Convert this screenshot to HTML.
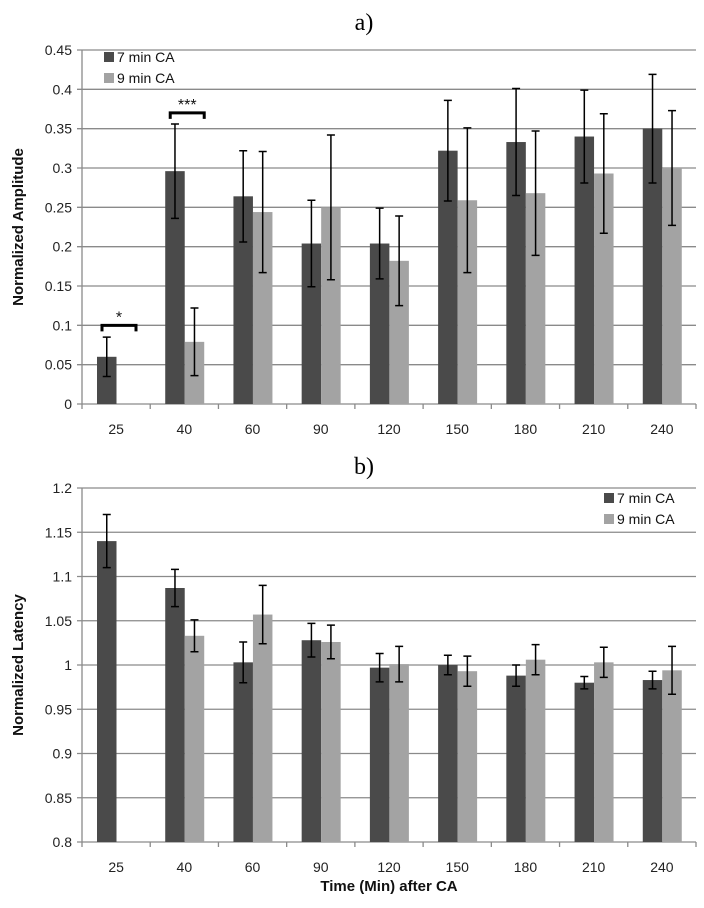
<!DOCTYPE html>
<html><head><meta charset="utf-8"><style>
body{margin:0;background:#fff;width:704px;height:908px;overflow:hidden}
svg{display:block;font-family:"Liberation Sans",sans-serif}
</style></head><body>
<svg id="chart" width="704" height="908"></svg>
<script>
const categories=["25","40","60","90","120","150","180","210","240"];
const ampSeries7=[0.06,0.296,0.264,0.204,0.204,0.322,0.333,0.34,0.35];
const ampErr7=[0.025,0.06,0.058,0.055,0.045,0.064,0.068,0.059,0.069];
const ampSeries9=[null,0.079,0.244,0.25,0.182,0.259,0.268,0.293,0.3];
const ampErr9=[null,0.043,0.077,0.092,0.057,0.092,0.079,0.076,0.073];
const ampTicks=["0","0.05","0.1","0.15","0.2","0.25","0.3","0.35","0.4","0.45"];
const latSeries7=[1.14,1.087,1.003,1.028,0.997,1.0,0.988,0.98,0.983];
const latErr7=[0.03,0.021,0.023,0.019,0.016,0.011,0.012,0.007,0.01];
const latSeries9=[null,1.033,1.057,1.026,1.001,0.993,1.006,1.003,0.994];
const latErr9=[null,0.018,0.033,0.019,0.02,0.017,0.017,0.017,0.027];
const latTicks=["0.8","0.85","0.9","0.95","1","1.05","1.1","1.15","1.2"];

const svg=document.getElementById('chart');
const NS='http://www.w3.org/2000/svg';
function el(tag,attrs,text){const e=document.createElementNS(NS,tag);for(const k in attrs)e.setAttribute(k,attrs[k]);if(text!==undefined)e.textContent=text;svg.appendChild(e);return e;}

function drawChart(cfg){
  const L=82,R=696,T=cfg.top,B=cfg.bottom;
  const cw=(R-L)/categories.length;
  const y=v=>B-(v-cfg.min)/(cfg.max-cfg.min)*(B-T);
  const x=i=>L+i*cw;
  // gridlines & ticks
  cfg.ticks.forEach(t=>{
    const v=parseFloat(t),yy=y(v);
    const g=el('line',{x1:L-5,x2:R,y1:yy,y2:yy,stroke:'#8a8a8a','stroke-width':1.3});
    
    
    const lb=el('text',{x:L-10,y:yy+5,'text-anchor':'end','font-size':14,fill:'#222'},t);
    
    
  });
  const ax=el('line',{x1:L,x2:L,y1:T,y2:B,stroke:'#8a8a8a','stroke-width':1.3});
  
  
  for(let i=0;i<=categories.length;i++){
    const tk=el('line',{x1:x(i),x2:x(i),y1:B,y2:B+5,stroke:'#8a8a8a','stroke-width':1.3});
    
    
  }
  categories.forEach((c,i)=>{
    const lb=el('text',{x:x(i)+cw/2,y:B+30,'text-anchor':'middle','font-size':14,fill:'#222'},c);
    
    
  });
  const bw=19.5;
  [[cfg.s7,cfg.e7,'#4a4a4a',15,'7min'],[cfg.s9,cfg.e9,'#a3a3a3',15+bw,'9min']].forEach(([s,e,col,off,nm])=>{
    s.forEach((v,i)=>{
      if(v===null)return;
      const bx=x(i)+off;
      const r=el('rect',{x:bx,y:y(v),width:bw,height:B-y(v),fill:col});
      
      
      const cx=bx+bw/2,hi=y(v+e[i]),lo=y(Math.max(v-e[i],cfg.min));
      const eb=el('path',{d:`M${cx},${hi}V${lo}M${cx-4},${hi}H${cx+4}M${cx-4},${lo}H${cx+4}`,stroke:'#000','stroke-width':1.5,fill:'none'});
      
      
    });
  });
  const tl=el('text',{x:23,y:(T+B)/2,'text-anchor':'middle','font-size':15,'font-weight':'bold',fill:'#111',transform:`rotate(-90 23 ${(T+B)/2})`},cfg.ylabel);
  
  
  const tt=el('text',{x:364,y:cfg.titleY,'text-anchor':'middle','font-size':24,'font-family':'Liberation Serif, serif',fill:'#000'},cfg.title);
  
  
  [['#4a4a4a','7 min CA',0],['#a3a3a3','9 min CA',1]].forEach(([c,t,k])=>{
    const ly=cfg.legY+k*21;
    const sq=el('rect',{x:cfg.legX,y:ly-5,width:10,height:10,fill:c});
    
    
    const lt=el('text',{x:cfg.legX+13,y:ly+5,'font-size':14,fill:'#111'},t);
    
    
  });
  return {x,y,cw};
}
const a=drawChart({top:50,bottom:404,min:0,max:0.45,ticks:ampTicks,s7:ampSeries7,e7:ampErr7,s9:ampSeries9,e9:ampErr9,ylabel:'Normalized Amplitude',title:'a)',titleY:30,legX:104,legY:57});
drawChart({top:488,bottom:842,min:0.8,max:1.2,ticks:latTicks,s7:latSeries7,e7:latErr7,s9:latSeries9,e9:latErr9,ylabel:'Normalized Latency',title:'b)',titleY:474,legX:604,legY:498});
// significance brackets
[[0,0.1,'*'],[1,0.37,'***']].forEach(([i,v,s])=>{
  const x1=a.x(i)+20,x2=a.x(i)+54,yy=a.y(v);
  const br=el('path',{d:`M${x1},${yy+6}V${yy}H${x2}V${yy+6}`,stroke:'#000','stroke-width':3,fill:'none'});
  
  
  const st=el('text',{x:(x1+x2)/2,y:yy-3,'text-anchor':'middle','font-size':16,fill:'#111'},s);
  
  
});
const xt=el('text',{x:389,y:891,'text-anchor':'middle','font-size':15,'font-weight':'bold',fill:'#111'},'Time (Min) after CA');


</script>
</body></html>
